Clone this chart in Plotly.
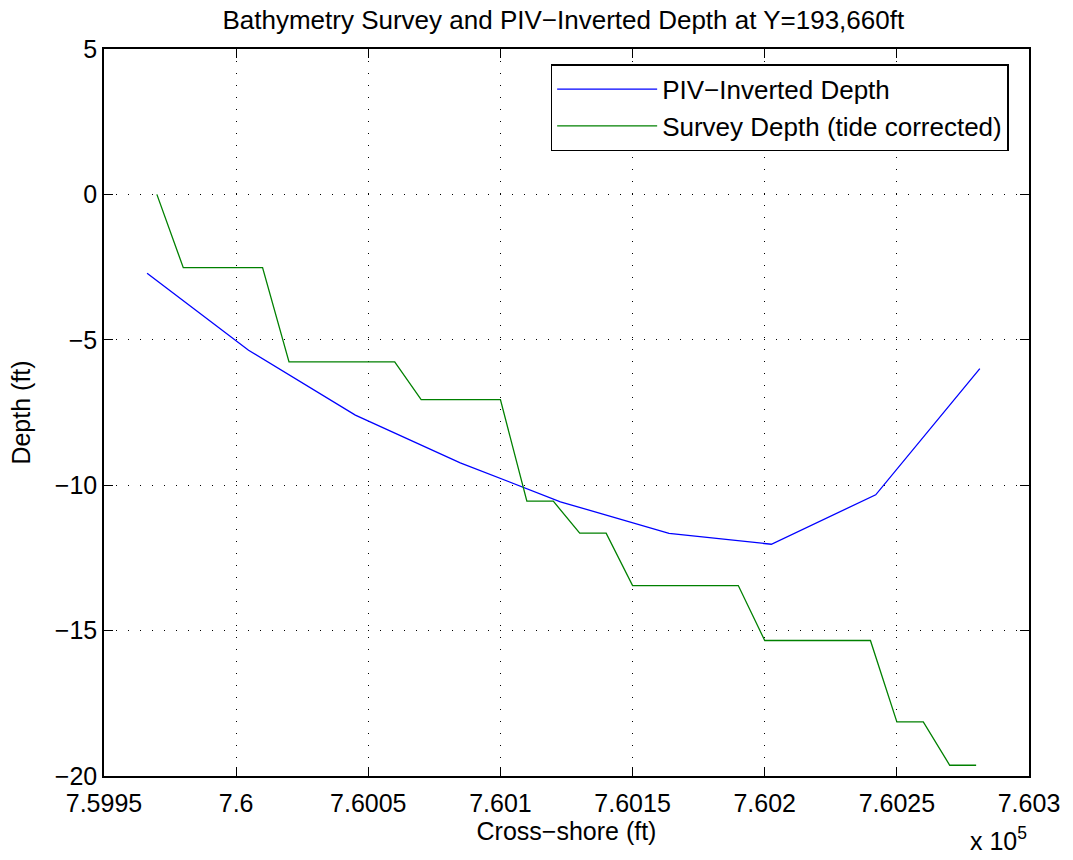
import plotly.graph_objects as go

# PIV-inverted depth profile
piv_x = [759966.3, 760004.7, 760045.1, 760084.8, 760122.7, 760163.8, 760202.5, 760242.0, 760281.4]
piv_depth = [-2.71, -5.36, -7.59, -9.23, -10.57, -11.66, -12.03, -10.33, -5.99]

# Survey depth (tide corrected)
survey_x = [759970, 759980, 760010, 760020, 760060, 760070, 760100, 760110, 760120,
            760130, 760140, 760150, 760190, 760200, 760240, 760250, 760260, 760270, 760280]
survey_depth = [0.0, -2.52, -2.52, -5.76, -5.76, -7.06, -7.06, -10.55, -10.55,
                -11.65, -11.65, -13.45, -13.45, -15.34, -15.34, -18.14, -18.14, -19.63, -19.63]

x_ticks = [759950, 760000, 760050, 760100, 760150, 760200, 760250, 760300]
x_tick_labels = ["7.5995", "7.6", "7.6005", "7.601", "7.6015", "7.602", "7.6025", "7.603"]
y_ticks = [-20, -15, -10, -5, 0, 5]

FONT = "Liberation Sans, Arial, Helvetica, sans-serif"
grid_dash = "1px,11px"

fig = go.Figure()
fig.add_trace(go.Scatter(
    x=piv_x, y=piv_depth, mode="lines", name="PIV\u2212Inverted Depth",
    line=dict(color="rgb(0,0,255)", width=1.3),
))
fig.add_trace(go.Scatter(
    x=survey_x, y=survey_depth, mode="lines", name="Survey Depth (tide corrected)",
    line=dict(color="rgb(0,128,0)", width=1.3),
))

axis_common = dict(
    showline=True, linecolor="black", linewidth=1.5, mirror="ticks",
    ticks="inside", ticklen=9, tickwidth=1, tickcolor="black",
    showgrid=True, gridcolor="black", gridwidth=1, griddash=grid_dash,
    zeroline=False, tickfont=dict(size=25, color="black", family=FONT),
)

fig.update_xaxes(
    range=[759950, 760300], tickvals=x_ticks, ticktext=x_tick_labels,
    title=dict(text="Cross\u2212shore (ft)", font=dict(size=25, color="black", family=FONT), standoff=6),
    ticklabelstandoff=4,
    **axis_common,
)
fig.update_yaxes(
    range=[-20, 5], tickvals=y_ticks,
    title=dict(text="Depth (ft)", font=dict(size=25, color="black", family=FONT), standoff=17),
    **axis_common,
)

# exponent label under the right end of the x axis
fig.add_annotation(
    text="x 10<sup>5</sup>", xref="paper", yref="paper", x=1.0, y=-0.111,
    xanchor="right", yanchor="bottom", showarrow=False,
    font=dict(size=25, color="black", family=FONT),
)

fig.update_layout(
    width=1073, height=860,
    margin=dict(l=104, r=44, t=49, b=84),
    paper_bgcolor="white", plot_bgcolor="white",
    font=dict(family=FONT, color="black"),
    title=dict(
        text="Bathymetry Survey and PIV\u2212Inverted Depth at Y=193,660ft",
        x=0.525, xanchor="center", yref="container", y=0.977, yanchor="middle",
        font=dict(size=26, color="black", family=FONT),
    ),
    legend=dict(
        x=0.978, y=0.979, xanchor="right", yanchor="top",
        bgcolor="white", bordercolor="black", borderwidth=1.5,
        font=dict(size=26, color="black", family=FONT),
        itemwidth=100, tracegroupgap=0,
    ),
)

fig.write_html(
    "out.html",
    config={"displayModeBar": False},
    post_script="document.body.style.margin='0';",
)
